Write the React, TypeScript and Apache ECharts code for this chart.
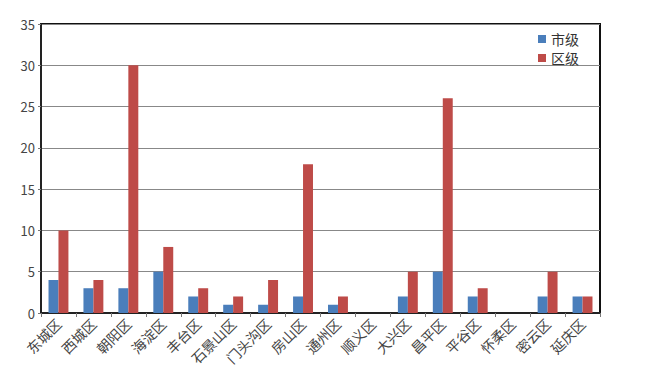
import React, { useEffect, useRef } from "react";
import * as echarts from "echarts";

const categories = ["东城区", "西城区", "朝阳区", "海淀区", "丰台区", "石景山区", "门头沟区", "房山区", "通州区", "顺义区", "大兴区", "昌平区", "平谷区", "怀柔区", "密云区", "延庆区"];
const cityLevel = [4, 3, 3, 5, 2, 1, 1, 2, 1, 0, 2, 5, 2, 0, 2, 2];
const districtLevel = [10, 4, 30, 8, 3, 2, 4, 18, 2, 0, 5, 26, 3, 0, 5, 2];
const seriesNames = ["市级", "区级"];

export default function App() {
  const ref = useRef<HTMLDivElement>(null);
  useEffect(() => {
    if (!ref.current) return;
    const chart = echarts.init(ref.current, undefined, { renderer: "svg" });
    const font = "'Noto Sans CJK SC', 'Noto Sans', sans-serif";
    chart.setOption({
      animation: false,
      backgroundColor: "#ffffff",
      textStyle: { fontFamily: font },
      grid: { left: 41, right: 50, top: 24, bottom: 78, show: true, borderColor: "#111", borderWidth: 2, containLabel: false },
      legend: {
        orient: "vertical",
        right: 66,
        top: 27,
        itemWidth: 8,
        itemHeight: 8,
        itemGap: 5,
        icon: "rect",
        textStyle: { fontSize: 14, color: "#333", fontFamily: font },
        data: seriesNames,
      },
      xAxis: {
        type: "category",
        data: categories,
        axisLine: { lineStyle: { color: "#222", width: 2 } },
        axisTick: { show: true, length: 4, lineStyle: { color: "#777" } },
        axisLabel: { interval: 0, rotate: 45, fontSize: 14, color: "#444", margin: 8, fontFamily: font },
      },
      yAxis: {
        type: "value",
        min: 0,
        max: 35,
        interval: 5,
        axisLine: { show: true, lineStyle: { color: "#222", width: 2 } },
        axisTick: { show: true, length: 3, lineStyle: { color: "#777" } },
        axisLabel: { fontSize: 13, color: "#444", margin: 6, fontFamily: font },
        splitLine: { lineStyle: { color: "#888", width: 1 } },
      },
      series: [
        { name: seriesNames[0], type: "bar", data: cityLevel, itemStyle: { color: "#4a7ebb" }, barGap: "0%", barCategoryGap: "43%" },
        { name: seriesNames[1], type: "bar", data: districtLevel, itemStyle: { color: "#be4b48" }, barGap: "0%", barCategoryGap: "43%" },
      ],
    });
    return () => chart.dispose();
  }, []);
  return <div ref={ref} style={{ width: 650, height: 391, position: "absolute", left: 0, top: 0 }} />;
}
